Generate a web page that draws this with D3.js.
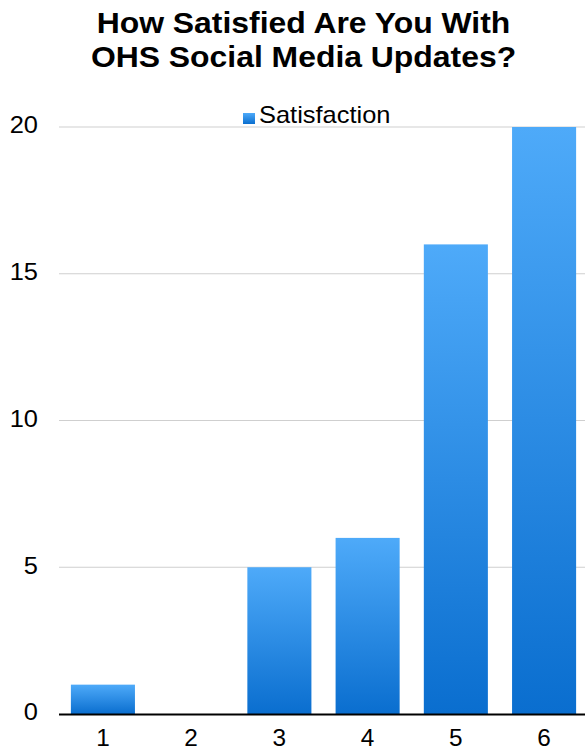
<!DOCTYPE html>
<html><head><meta charset="utf-8">
<script src="https://cdn.jsdelivr.net/npm/d3@7"></script>
<style>body{margin:0;background:#fff}svg{display:block}</style>
</head><body>
<script>
const categories = ["1","2","3","4","5","6"];
const values = [1,0,5,6,16,20];
const yTicks = [0,5,10,15,20];
const seriesName = "Satisfaction";
const titleLines = ["How Satisfied Are You With","OHS Social Media Updates?"];

const W=585,H=751;
const svg=d3.select("body").append("svg").attr("width",W).attr("height",H);
const font="'Liberation Sans', Arial, Helvetica, sans-serif";

const defs=svg.append("defs");
const g=defs.append("linearGradient").attr("id","bg").attr("x1",0).attr("y1",0).attr("x2",0).attr("y2",1);
g.append("stop").attr("offset","0%").attr("stop-color","#4eaaf9");
g.append("stop").attr("offset","100%").attr("stop-color","#0a6ecf");
const lg=defs.append("linearGradient").attr("id","lgb").attr("x1",0).attr("y1",0).attr("x2",0).attr("y2",1);
lg.append("stop").attr("offset","0%").attr("stop-color","#4eaaf9");
lg.append("stop").attr("offset","100%").attr("stop-color","#0a6ecf");

const x=d3.scaleBand().domain(categories).range([58.8,588.2]).paddingInner(0.274).paddingOuter(0.137);
const y=d3.scaleLinear().domain([0,20]).range([714,127]);

// gridlines
svg.append("g").selectAll("line").data(yTicks.filter(t=>t>0)).join("line")
  .attr("x1",59).attr("x2",W).attr("y1",d=>y(d)).attr("y2",d=>y(d))
  .attr("stroke","#cfcfcf").attr("stroke-width",1);

// y labels
svg.append("g").selectAll("text").data(yTicks).join("text")
  .attr("transform",d=>`translate(38,${y(d)-2}) scale(1.06,1)`)
  .attr("dy","0.35em").attr("text-anchor","end")
  .attr("font-family",font).attr("font-size",24).attr("fill","#000").text(d=>d);

// bars
svg.append("g").selectAll("rect").data(values.map((v,i)=>({c:categories[i],v}))).join("rect")
  .attr("x",d=>x(d.c)).attr("width",x.bandwidth())
  .attr("y",d=>y(d.v)).attr("height",d=>y(0)-y(d.v))
  .attr("fill","url(#bg)");

// axis baseline
svg.append("line").attr("x1",59).attr("x2",W).attr("y1",y(0)+0.5).attr("y2",y(0)+0.5)
  .attr("stroke","#000").attr("stroke-width",2);

// x labels
svg.append("g").selectAll("text").data(categories).join("text")
  .attr("transform",d=>`translate(${x(d)+x.bandwidth()/2},746) scale(1.06,1)`)
  .attr("text-anchor","middle")
  .attr("font-family",font).attr("font-size",23).attr("fill","#000").text(d=>d);

// title
svg.append("g").selectAll("text").data(titleLines).join("text")
  .attr("transform",(d,i)=>`translate(303.5,${33+i*34}) scale(1.1,1)`).attr("text-anchor","middle")
  .attr("font-family",font).attr("font-weight","bold").attr("font-size",29).attr("fill","#000").text(d=>d);

// legend
svg.append("rect").attr("x",243).attr("y",113).attr("width",12).attr("height",11).attr("fill","url(#lgb)");
svg.append("text").attr("transform","translate(259,123) scale(1.06,1)").attr("font-family",font).attr("font-size",24).attr("fill","#000").text(seriesName);
</script>
</body></html>
